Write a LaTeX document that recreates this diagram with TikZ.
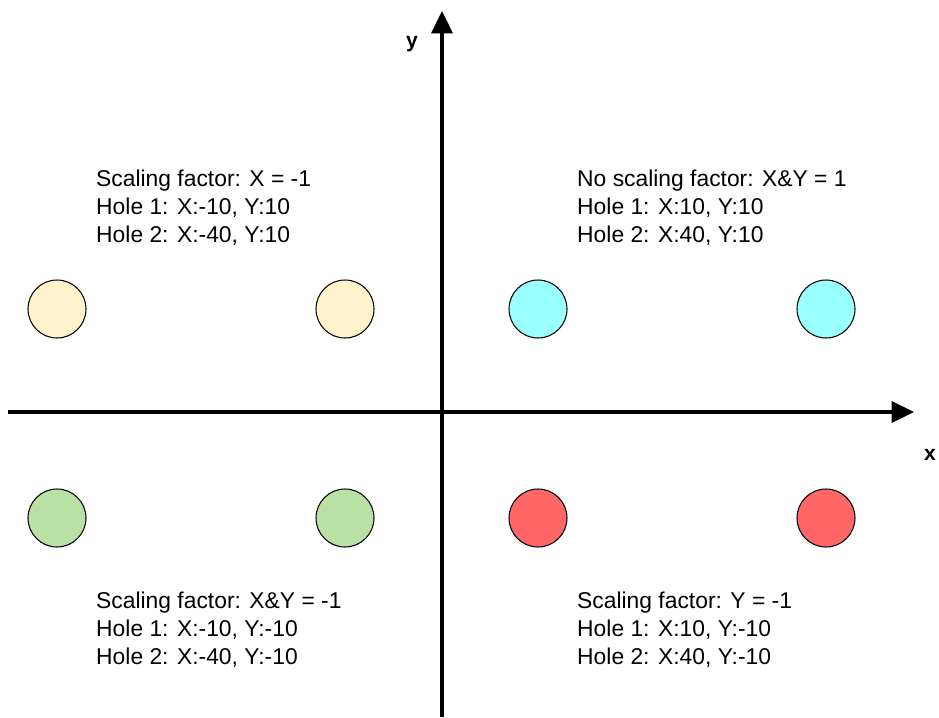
\documentclass[tikz,border=0pt]{standalone}
\usepackage{fontspec}
\setmainfont{Liberation Sans}
\usetikzlibrary{arrows.meta, positioning}
\definecolor{cYellow}{HTML}{FFF2CC}
\definecolor{cCyan}{HTML}{99FFFF}
\definecolor{cGreen}{HTML}{B9E0A5}
\definecolor{cRed}{HTML}{FF6666}
\tikzset{
	hole/.style={circle, draw=black, line width=0.9pt, minimum size=58*0.03cm, inner sep=0pt},
	axis/.style={-{Triangle[length=19pt, width=18pt]}, line width=2.6pt},
	info/.style={anchor=west, align=left, inner sep=0pt, font=\fontsize{19.5}{24}\selectfont},
	axlabel/.style={font=\fontsize{18}{20}\selectfont\bfseries, inner sep=0pt},
}

\begin{document}
\begin{tikzpicture}[x=0.03cm, y=-0.03cm]
	\useasboundingbox (0,0) rectangle (939,717);
	% axes
	\coordinate (xs) at (8,412);
	\coordinate (xe) at (914,412);
	\coordinate (ys) at (442,717);
	\coordinate (ye) at (442,11);
	\draw[axis] (xs) -- (xe);
	\draw[axis] (ys) -- (ye);
	\node[axlabel] (xl) at (930,455) {x};
	\node[axlabel] (yl) at (412,44) {y};
	% holes
	\foreach \px/\py/\col/\nm in {57/309/cYellow/tl2, 345/309/cYellow/tl1, 538/309/cCyan/tr1, 826/309/cCyan/tr2,
		57/518/cGreen/bl2, 345/518/cGreen/bl1, 538/518/cRed/br1, 826/518/cRed/br2} {
		\node[hole, fill=\col] (\nm) at (\px,\py) {};
	}
	% descriptions
	\node[info] (tlt) at (96,208) {Scaling factor: X = -1\\Hole 1: X:-10, Y:10\\Hole 2: X:-40, Y:10};
	\node[info] (trt) at (577,208) {No scaling factor: X\&Y = 1\\Hole 1: X:10, Y:10\\Hole 2: X:40, Y:10};
	\node[info] (blt) at (96,630) {Scaling factor: X\&Y = -1\\Hole 1: X:-10, Y:-10\\Hole 2: X:-40, Y:-10};
	\node[info] (brt) at (577,630) {Scaling factor: Y = -1\\Hole 1: X:10, Y:-10\\Hole 2: X:40, Y:-10};
\end{tikzpicture}
\end{document}
